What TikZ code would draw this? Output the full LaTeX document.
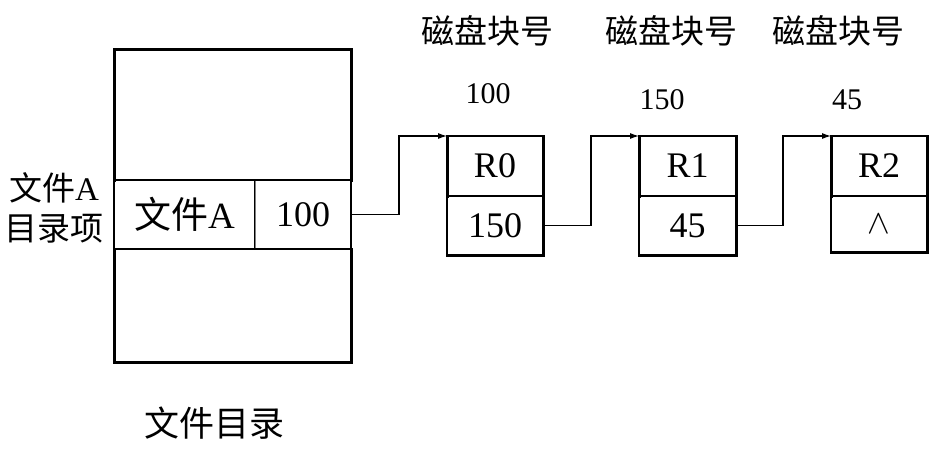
\documentclass[tikz,border=0pt]{standalone}
\usepackage{fontspec}
\setmainfont{Liberation Serif}
\newfontfamily\cjk{Noto Sans CJK SC}
\usetikzlibrary{arrows.meta}
\tikzset{
  cell/.style={draw=black, line width=1.1pt, inner sep=0pt, outer sep=0pt,
    font=\fontsize{36}{36}\selectfont},
  heavy/.style={line width=3pt, line cap=rect},
  mid/.style={line width=1.8pt},
  link/.style={line width=1.1pt, -{Latex[length=9pt,width=6pt]}},
  lbl/.style={font=\cjk\fontsize{33}{40}\selectfont, inner sep=0pt, align=center},
  num/.style={font=\fontsize{30}{30}\selectfont, inner sep=0pt}
}
\begin{document}
\begin{tikzpicture}[x=1pt,y=-1pt]
\useasboundingbox (0,0) rectangle (946,448);

% file directory
\node[cell, minimum width=237pt, minimum height=131pt] (dtop) at (232.5,114.5) {};
\node[cell, minimum width=141pt, minimum height=69pt, font=\fontsize{37}{37}\selectfont] (dname) at (184.5,214.5) {{\cjk 文件}A};
\node[cell, minimum width=96pt, minimum height=69pt] (dptr) at (303,214.5) {100};
\node[cell, minimum width=237pt, minimum height=113pt] (dbot) at (232.5,305.5) {};
\draw[gray, line width=1pt] (dname.north east) -- (dname.south east);
\draw[mid] (dname.north west) -- (dptr.north east);
\draw[mid] (dname.south west) -- (dptr.south east);
\draw[heavy] (dtop.south west) -- (dtop.north west) -- (dtop.north east) -- (dtop.south east);
\draw[heavy] (dbot.north west) -- (dbot.south west) -- (dbot.south east) -- (dbot.north east);

\node[lbl] (dlabel) at (54,208) {文件{\fontspec{Liberation Serif}A}\\目录项};
\node[lbl, font=\cjk\fontsize{35}{40}\selectfont] (dtitle) at (214,423) {文件目录};

% disk blocks
\node[cell, minimum width=96pt, minimum height=60pt] (r0t) at (495,166) {R0};
\node[cell, minimum width=96pt, minimum height=59pt] (r0b) at (495,225.5) {150};
\node[cell, minimum width=97pt, minimum height=60pt] (r1t) at (687.5,166) {R1};
\node[cell, minimum width=97pt, minimum height=59pt] (r1b) at (687.5,225.5) {45};
\node[cell, minimum width=96pt, minimum height=60pt] (r2t) at (879,166) {R2};
\node[cell, minimum width=96pt, minimum height=56pt] (r2b) at (879,224) {\scalebox{3.4}{\fontsize{10}{10}\selectfont$\wedge$}};

\foreach \t/\b in {r0t/r0b, r1t/r1b, r2t/r2b}{
  \draw[heavy] (\t.south west) -- (\t.north west);
  \draw[heavy] (\t.north east) -- (\b.south east) -- (\b.south west);
}

% labels
\node[lbl] (h0) at (487,31) {磁盘块号};
\node[lbl] (h1) at (671,31) {磁盘块号};
\node[lbl] (h2) at (838,31) {磁盘块号};
\node[num] (n0) at (488,94) {100};
\node[num] (n1) at (662,100) {150};
\node[num] (n2) at (847,100) {45};

% links
\coordinate (k0) at (399,136);
\coordinate (k1) at (591,136);
\coordinate (k2) at (783,136);
\draw[link] (dptr.east) -| (k0) -- (r0t.north west);
\draw[link] (r0b.east) -| (k1) -- (r1t.north west);
\draw[link] (r1b.east) -| (k2) -- (r2t.north west);
\end{tikzpicture}
\end{document}
